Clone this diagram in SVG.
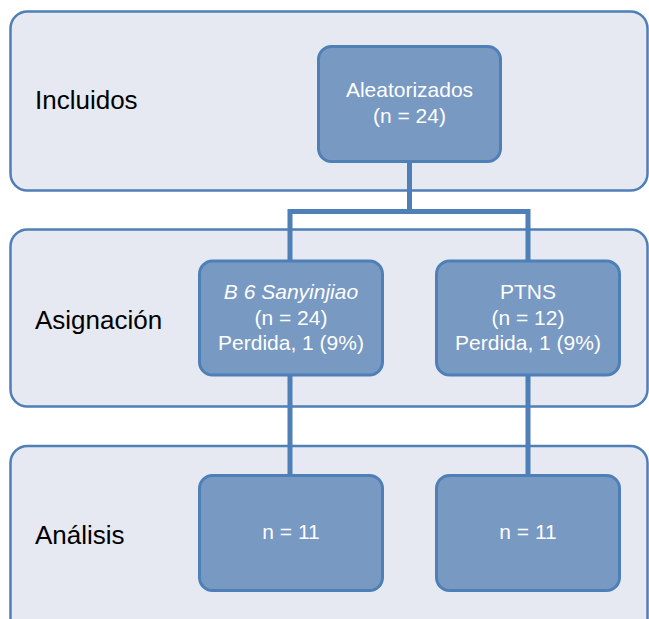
<svg xmlns="http://www.w3.org/2000/svg" width="649" height="619" viewBox="0 0 649 619">
<style>
.panel{fill:#e6e9f1;stroke:#4f7fb7;stroke-width:2.5}
.node{fill:#7799c2;stroke:#4f7fb7;stroke-width:3}
.lbl{font-family:"Liberation Sans",Arial,sans-serif;font-size:26px;fill:#000}
.nt{font-family:"Liberation Sans",Arial,sans-serif;font-size:21px;fill:#fff;text-anchor:middle}
.conn{fill:none;stroke:#4f7fb7;stroke-width:5}
</style>
<rect width="649" height="619" fill="#fff"/>
<g id="panel-incluidos">
<rect class="panel" x="10.5" y="11.5" width="637" height="179" rx="17"/>
<text class="lbl" x="35" y="109">Incluidos</text>
</g>
<g id="panel-asignacion">
<rect class="panel" x="10.5" y="229.5" width="637" height="177" rx="17"/>
<text class="lbl" x="35" y="329">Asignación</text>
</g>
<g id="panel-analisis">
<rect class="panel" x="10.5" y="446" width="637" height="190" rx="17"/>
<text class="lbl" x="35" y="544">Análisis</text>
</g>
<g id="connectors">
<path class="conn" d="M409.5 161 V211.5 M290 211.5 H528 M290 209 V261 M528 209 V261"/>
<path class="conn" d="M290 375 V475 M528 375 V475"/>
</g>
<g id="node-aleatorizados">
<rect class="node" x="318.5" y="46.5" width="182" height="115" rx="13"/>
<text class="nt" x="409.5" y="97">Aleatorizados</text>
<text class="nt" x="409.5" y="123">(n = 24)</text>
</g>
<g id="node-b6">
<rect class="node" x="199.5" y="261" width="183" height="114" rx="13"/>
<text class="nt" x="291" y="299" font-style="italic">B 6 Sanyinjiao</text>
<text class="nt" x="291" y="325">(n = 24)</text>
<text class="nt" x="291" y="350">Perdida, 1 (9%)</text>
</g>
<g id="node-ptns">
<rect class="node" x="436.5" y="261" width="183" height="114" rx="13"/>
<text class="nt" x="528" y="299">PTNS</text>
<text class="nt" x="528" y="325">(n = 12)</text>
<text class="nt" x="528" y="350">Perdida, 1 (9%)</text>
</g>
<g id="node-analisis-b6">
<rect class="node" x="199.5" y="475.5" width="183" height="115" rx="13"/>
<text class="nt" x="291" y="539">n = 11</text>
</g>
<g id="node-analisis-ptns">
<rect class="node" x="436.5" y="475.5" width="183" height="115" rx="13"/>
<text class="nt" x="528" y="539">n = 11</text>
</g>
</svg>
